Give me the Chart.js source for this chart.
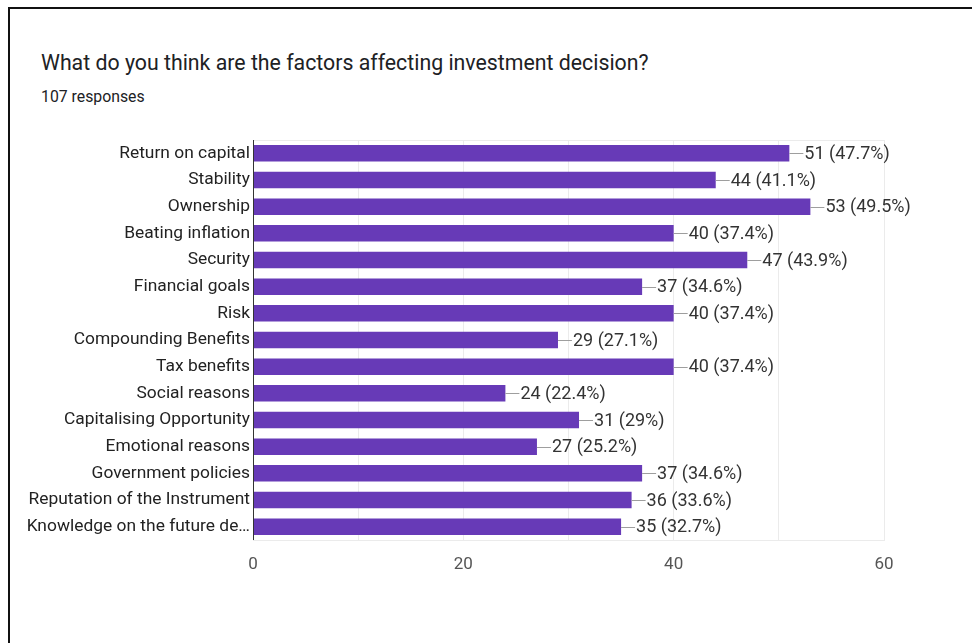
<!DOCTYPE html>
<html>
<head>
<meta charset="utf-8">
<script src="https://cdn.jsdelivr.net/npm/chart.js@4"></script>
<style>
  html, body { margin: 0; padding: 0; background: #fff; }
  body { width: 972px; height: 643px; position: relative; overflow: hidden; }
  #frame {
    position: absolute; left: 8px; top: 7px; width: 980px; height: 700px;
    border-top: 2px solid #111; border-left: 2px solid #111;
  }
  #title {
    position: absolute; left: 41px; top: 50px;
    font: 21.3px Roboto, sans-serif; color: #202124; white-space: nowrap;
  }
  #sub {
    position: absolute; left: 41px; top: 87px;
    font: 15.8px Roboto, sans-serif; color: #202124;
  }
  #wrap { position: absolute; left: 0; top: 0; width: 972px; height: 643px; }
</style>
</head>
<body>
<div id="frame"></div>
<div id="title">What do you think are the factors affecting investment decision?</div>
<div id="sub">107 responses</div>
<div id="wrap"><canvas id="chart"></canvas></div>
<script>
const totalResponses = 107;
const factors = [
    'Return on capital', 'Stability', 'Ownership', 'Beating inflation', 'Security',
    'Financial goals', 'Risk', 'Compounding Benefits', 'Tax benefits', 'Social reasons',
    'Capitalising Opportunity', 'Emotional reasons', 'Government policies',
    'Reputation of the Instrument', 'Knowledge on the future de\u2026'
];
const counts = [51, 44, 53, 40, 47, 37, 40, 29, 40, 24, 31, 27, 37, 36, 35];
const xTicks = [0, 20, 40, 60];

// Frame around the plot area (light grey) + dark zero line
const areaBox = {
    id: 'areaBox',
    beforeDatasetsDraw(chart) {
        const { ctx, chartArea: a } = chart;
        ctx.save();
        ctx.strokeStyle = '#ebebeb';
        ctx.lineWidth = 1;
        ctx.strokeRect(a.left + 0.5, a.top + 0.5, a.right - a.left, a.bottom - a.top);
        ctx.restore();
    },
    afterDatasetsDraw(chart) {
        const { ctx, chartArea: a } = chart;
        const x0 = Math.round(chart.scales.x.getPixelForValue(0)) + 0.5;
        ctx.save();
        ctx.strokeStyle = '#333';
        ctx.lineWidth = 1;
        ctx.beginPath();
        ctx.moveTo(x0, a.top);
        ctx.lineTo(x0, a.bottom);
        ctx.stroke();
        ctx.restore();
    }
};

// "51 (47.7%)" labels with a short leader line
const valueLabels = {
    id: 'valueLabels',
    afterDatasetsDraw(chart) {
        const { ctx } = chart;
        const meta = chart.getDatasetMeta(0);
        ctx.save();
        ctx.font = '18px Roboto, sans-serif';
        ctx.textBaseline = 'middle';
        ctx.fillStyle = '#333';
        ctx.strokeStyle = '#9e9e9e';
        ctx.lineWidth = 1;
        meta.data.forEach((bar, i) => {
            const v = counts[i];
            const pct = (v / totalResponses * 100).toFixed(1).replace(/\.0$/, '');
            const y = Math.round(bar.y) + 0.5;
            ctx.beginPath();
            ctx.moveTo(bar.x, y);
            ctx.lineTo(bar.x + 14, y);
            ctx.stroke();
            ctx.fillText(v + ' (' + pct + '%)', bar.x + 15, bar.y + 1);
        });
        ctx.restore();
    }
};

new Chart(document.getElementById('chart'), {
    type: 'bar',
    data: {
        labels: factors,
        datasets: [{
            data: counts,
            backgroundColor: '#673ab7',
            borderWidth: 0,
            barPercentage: 0.62,
            categoryPercentage: 1
        }]
    },
    options: {
        indexAxis: 'y',
        responsive: true,
        maintainAspectRatio: false,
        animation: false,
        layout: { padding: { top: 140, right: 88, bottom: 0, left: 0 } },
        plugins: {
            legend: { display: false },
            tooltip: { enabled: false }
        },
        scales: {
            x: {
                min: 0,
                max: 60,
                afterFit(scale) { scale.height = 103; },
                afterBuildTicks(scale) {
                    scale.ticks = [0, 10, 20, 30, 40, 50, 60].map(v => ({ value: v }));
                },
                grid: { color: '#ebebeb', drawTicks: false },
                border: { display: false },
                ticks: {
                    padding: 15,
                    color: '#555',
                    font: { size: 17, family: 'Roboto, sans-serif' },
                    callback: v => xTicks.includes(v) ? String(v) : ''
                }
            },
            y: {
                afterFit(scale) { scale.width = 253; },
                grid: { display: false, drawTicks: false },
                border: { display: false },
                ticks: {
                    padding: 3,
                    color: '#222',
                    autoSkip: false,
                    font: { size: 17.4, family: 'Roboto, sans-serif' }
                }
            }
        }
    },
    plugins: [areaBox, valueLabels]
});
</script>
</body>
</html>
